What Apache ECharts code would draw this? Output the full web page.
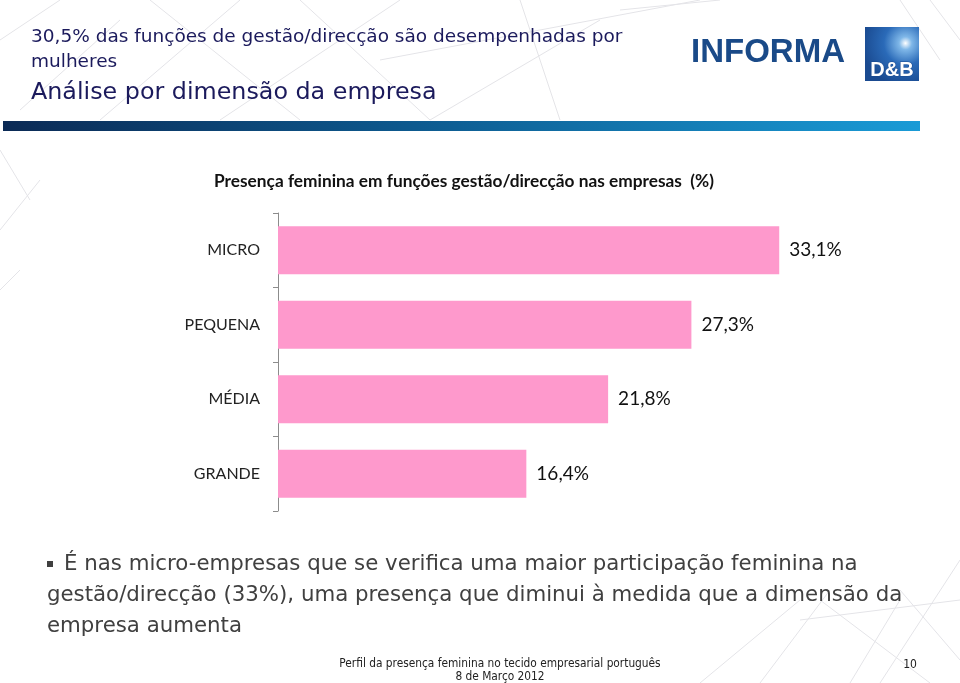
<!DOCTYPE html>
<html><head><meta charset="utf-8">
<script src="https://cdn.jsdelivr.net/npm/echarts@6/dist/echarts.min.js"></script>
<style>html,body{margin:0;padding:0;background:#fff}#c{width:960px;height:683px}</style>
</head><body><div id="c"></div>
<script>
const categories = ['MICRO', 'PEQUENA', 'MÉDIA', 'GRANDE'];
const values = [33.1, 27.3, 21.8, 16.4];
const chartTitle = 'Presença feminina em funções gestão/direcção nas empresas  (%)';
const headLine1 = '30,5% das funções de gestão/direcção são desempenhadas por';
const headLine2 = 'mulheres';
const headLine3 = 'Análise por dimensão da empresa';
const bulletLines = ['É nas micro-empresas que se verifica uma maior participação feminina na',
  'gestão/direcção (33%), uma presença que diminui à medida que a dimensão da',
  'empresa aumenta'];
const footer1 = 'Perfil da presença feminina no tecido empresarial português';
const footer2 = '8 de Março 2012';
const pageNo = '10';

const chart = echarts.init(document.getElementById('c'));
const lineStyle = {stroke: '#e4e4e8', lineWidth: 1};
const bgLines = [
  [[0,40],[60,0]],[[20,110],[120,20]],[[100,120],[240,0]],[[150,0],[300,120]],[[220,120],[400,0]],
  [[300,0],[430,120]],[[430,120],[600,20]],[[380,60],[700,0]],[[520,0],[560,120]],[[620,10],[720,0]],
  [[900,0],[940,60]],[[930,0],[960,40]],[[0,150],[30,200]],[[0,230],[40,180]],[[0,290],[20,270]],
  [[700,683],[800,600]],[[760,683],[830,590]],[[800,620],[960,600]],[[850,683],[900,600]],
  [[880,683],[960,560]],[[900,590],[960,660]],[[820,600],[930,683]]
];
const graphics = bgLines.map(p => ({type:'polyline', shape:{points:p}, style:lineStyle, silent:true, z:-10}));
const bodyFont = '"DejaVu Sans"';
const footFont = '"DejaVu Sans Condensed", "Liberation Sans Narrow"';
graphics.push(
  {type:'rect', shape:{x:3,y:121,width:917,height:10}, style:{fill:new echarts.graphic.LinearGradient(0,0,1,0,[{offset:0,color:'#0b2a55'},{offset:0.45,color:'#0d5a8f'},{offset:1,color:'#1a9bd6'}])}},
  {type:'text', x:31, y:37, style:{text:headLine1, font:'18.5px ' + bodyFont, fill:'#1b1a5c', textVerticalAlign:'middle'}},
  {type:'text', x:31, y:62, style:{text:headLine2, font:'18.5px ' + bodyFont, fill:'#1b1a5c', textVerticalAlign:'middle'}},
  {type:'text', x:31, y:93, style:{text:headLine3, font:'23.8px ' + bodyFont, fill:'#1b1a5c', textVerticalAlign:'middle'}},
  {type:'text', x:768, y:53, style:{text:'INFORMA', font:'bold 33px "Liberation Sans"', fill:'#1a4a88', textAlign:'center', textVerticalAlign:'middle'}},
  {type:'rect', shape:{x:865,y:27,width:54,height:54}, style:{fill:new echarts.graphic.RadialGradient(0.75,0.3,0.8,[{offset:0,color:'#ffffff'},{offset:0.15,color:'#7fb7e8'},{offset:0.5,color:'#2a6ab8'},{offset:1,color:'#1a4a90'}])}},
  {type:'text', x:892, y:70, style:{text:'D&B', font:'bold 20px "Liberation Sans"', fill:'#ffffff', stroke:'#1a4a90', lineWidth:1, textAlign:'center', textVerticalAlign:'middle'}},
  {type:'text', x:464, y:181, style:{text:chartTitle, font:'bold 17.3px Lato', fill:'#111', textAlign:'center', textVerticalAlign:'middle'}},
  {type:'rect', shape:{x:47,y:561,width:6,height:6}, style:{fill:'#404040'}},
  {type:'text', x:64, y:564, style:{text:bulletLines[0], font:'21.3px ' + bodyFont, fill:'#404040', textVerticalAlign:'middle'}},
  {type:'text', x:47, y:595, style:{text:bulletLines[1], font:'21.3px ' + bodyFont, fill:'#404040', textVerticalAlign:'middle'}},
  {type:'text', x:47, y:626, style:{text:bulletLines[2], font:'21.3px ' + bodyFont, fill:'#404040', textVerticalAlign:'middle'}},
  {type:'text', x:500, y:664, style:{text:footer1, font:'11.8px ' + footFont, fill:'#222', textAlign:'center', textVerticalAlign:'middle'}},
  {type:'text', x:500, y:677, style:{text:footer2, font:'11.8px ' + footFont, fill:'#222', textAlign:'center', textVerticalAlign:'middle'}},
  {type:'text', x:910, y:665, style:{text:pageNo, font:'12px ' + footFont, fill:'#222', textAlign:'center', textVerticalAlign:'middle'}}
);

chart.setOption({
  animation: false,
  backgroundColor: '#fff',
  grid: {left: 278, right: 152, top: 213, bottom: 172, containLabel: false},
  xAxis: {type: 'value', min: 0, max: 35, show: false},
  yAxis: {
    type: 'category', data: categories, inverse: true,
    axisLine: {show: true, lineStyle: {color: '#8c8c8c', width: 1}},
    axisTick: {show: true, length: 5, lineStyle: {color: '#8c8c8c'}},
    axisLabel: {fontFamily: 'Lato', fontSize: 16, color: '#222', margin: 18}
  },
  series: [{
    type: 'bar', data: values, barWidth: 48,
    itemStyle: {color: '#fe99cc'},
    label: {show: true, position: 'right', distance: 10, fontFamily: 'Lato', fontSize: 19, color: '#111',
      formatter: p => p.value.toFixed(1).replace('.', ',') + '%'}
  }],
  graphic: graphics
});
</script></body></html>
